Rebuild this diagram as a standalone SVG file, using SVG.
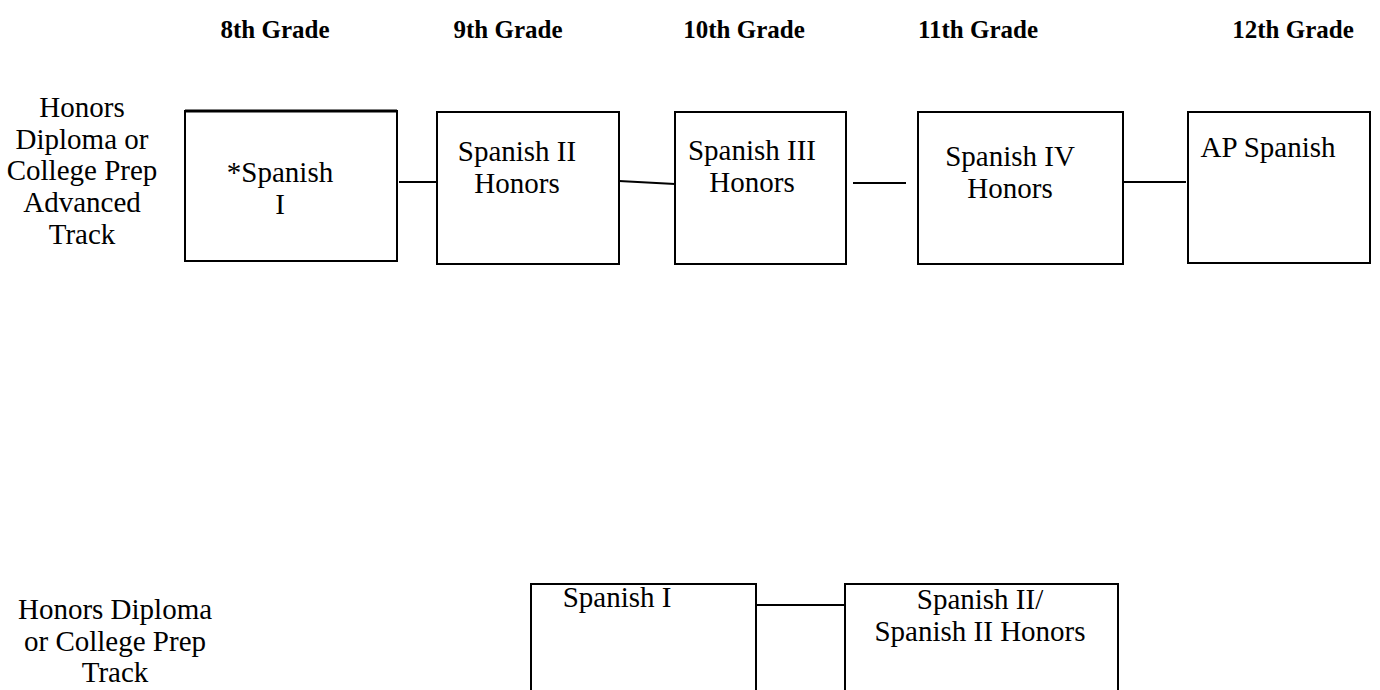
<svg xmlns="http://www.w3.org/2000/svg" width="1380" height="690" viewBox="0 0 1380 690">
<style>
.hd{font-family:"Liberation Serif","Times New Roman",serif;font-size:25px;font-weight:bold;fill:#000;text-anchor:middle}
.t{font-family:"Liberation Serif","Times New Roman",serif;font-size:29px;fill:#000;text-anchor:middle}
.box{fill:#fff;stroke:#000;stroke-width:2}
.ln{stroke:#000;stroke-width:2;fill:none}
</style>
<rect width="1380" height="690" fill="#fff"/>
<g id="headers">
<text class="hd" x="275" y="38">8th Grade</text>
<text class="hd" x="508" y="38">9th Grade</text>
<text class="hd" x="744" y="38">10th Grade</text>
<text class="hd" x="978" y="38">11th Grade</text>
<text class="hd" x="1293" y="38">12th Grade</text>
</g>
<g id="label-advanced">
<text class="t" x="82" y="117">Honors</text>
<text class="t" x="82" y="149">Diploma or</text>
<text class="t" x="82" y="180">College Prep</text>
<text class="t" x="82" y="212">Advanced</text>
<text class="t" x="82" y="244">Track</text>
</g>
<g id="label-prep">
<text class="t" x="115" y="619">Honors Diploma</text>
<text class="t" x="115" y="651">or College Prep</text>
<text class="t" x="115" y="682">Track</text>
</g>
<g id="connectors">
<line class="ln" x1="399" y1="182" x2="437" y2="182"/>
<line class="ln" x1="619" y1="181" x2="675" y2="184"/>
<line class="ln" x1="853" y1="183" x2="906" y2="183"/>
<line class="ln" x1="1120" y1="182" x2="1186" y2="182"/>
<line class="ln" x1="757" y1="605" x2="845" y2="605"/>
</g>
<g id="n-spanish1-8">
<rect class="box" x="185" y="111" width="212" height="150"/>
<line x1="185" y1="111" x2="397" y2="111" stroke="#000" stroke-width="3"/>
<text class="t" x="280" y="182">*Spanish</text>
<text class="t" x="280" y="214">I</text>
</g>
<g id="n-spanish2h">
<rect class="box" x="437" y="112" width="182" height="152"/>
<text class="t" x="517" y="161">Spanish II</text>
<text class="t" x="517" y="193">Honors</text>
</g>
<g id="n-spanish3h">
<rect class="box" x="675" y="112" width="171" height="152"/>
<text class="t" x="752" y="160">Spanish III</text>
<text class="t" x="752" y="192">Honors</text>
</g>
<g id="n-spanish4h">
<rect class="box" x="918" y="112" width="205" height="152"/>
<text class="t" x="1010" y="166">Spanish IV</text>
<text class="t" x="1010" y="198">Honors</text>
</g>
<g id="n-apspanish">
<rect class="box" x="1188" y="112" width="182" height="151"/>
<text class="t" x="1268" y="157">AP Spanish</text>
</g>
<g id="n-spanish1">
<rect class="box" x="531" y="584" width="225" height="110"/>
<text class="t" x="617" y="607">Spanish I</text>
</g>
<g id="n-spanish2">
<rect class="box" x="845" y="584" width="273" height="110"/>
<text class="t" x="980" y="609">Spanish II/</text>
<text class="t" x="980" y="641">Spanish II Honors</text>
</g>
</svg>
